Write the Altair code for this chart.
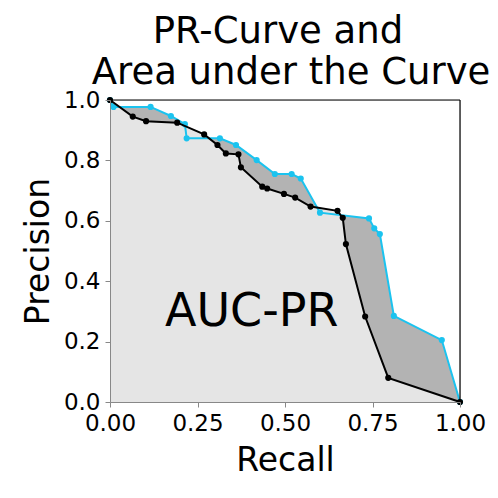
import altair as alt
import pandas as pd

# Data
cyan_recall = [0.0, 0.01, 0.116, 0.174, 0.214, 0.219, 0.314, 0.36, 0.419, 0.471, 0.519, 0.545,
               0.6, 0.74, 0.755, 0.771, 0.811, 0.948, 1.0]
cyan_precision = [1.0, 0.977, 0.977, 0.947, 0.92, 0.873, 0.873, 0.851, 0.801, 0.755, 0.755, 0.74,
                  0.627, 0.608, 0.575, 0.556, 0.285, 0.205, 0.0]
black_recall = [0.0, 0.065, 0.103, 0.192, 0.269, 0.307, 0.331, 0.367, 0.374, 0.435, 0.449, 0.497,
                0.529, 0.573, 0.65, 0.665, 0.674, 0.729, 0.795, 1.0]
black_precision = [1.0, 0.945, 0.93, 0.925, 0.886, 0.851, 0.823, 0.82, 0.777, 0.713, 0.707, 0.689,
                   0.677, 0.647, 0.633, 0.61, 0.523, 0.283, 0.08, 0.0]
x_ticks = [0.0, 0.25, 0.5, 0.75, 1.0]
y_ticks = [0.0, 0.2, 0.4, 0.6, 0.8, 1.0]
title_lines = ["PR-Curve and", "Area under the Curve"]
label_text = ["AUC-PR"]
label_pos = [0.405, 0.252]

FONT = "DejaVu Sans"
CYAN = "#1bc3ef"
W, H = 350, 302

cyan_df = pd.DataFrame({"i": range(len(cyan_recall)), "r": cyan_recall, "p": cyan_precision})
black_df = pd.DataFrame({"i": range(len(black_recall)), "r": black_recall, "p": black_precision})
label_df = pd.DataFrame({"r": [label_pos[0]], "p": [label_pos[1]], "t": label_text})

xs = alt.Scale(domain=[0, 1], nice=False, zero=False, padding=0)
ys = alt.Scale(domain=[0, 1], nice=False, zero=False, padding=0)

x_axis = alt.Axis(values=x_ticks, format=".2f", title="Recall", grid=False,
                  labelFont=FONT, titleFont=FONT, zindex=1,
                  labelFontSize=23, labelPadding=5, tickSize=5, titleFontSize=33,
                  titleFontWeight="normal", titleBaseline="alphabetic", titleY=68,
                  labelFlush=False)
y_axis = alt.Axis(values=y_ticks, format=".1f", title="Precision", grid=False,
                  labelFont=FONT, titleFont=FONT, zindex=1,
                  labelFontSize=23, labelPadding=5, tickSize=5, titleFontSize=33,
                  titleFontWeight="normal", titleBaseline="alphabetic", titleX=-62,
                  titleAngle=-90, labelFlush=False)

X = alt.X("r:Q", scale=xs, axis=x_axis)
Y = alt.Y("p:Q", scale=ys, axis=y_axis)

area_cyan = alt.Chart(cyan_df).mark_area(fill="#b3b3b3", fillOpacity=1).encode(
    x=X, y=alt.Y("p:Q", scale=ys, axis=y_axis, stack=None))
area_black = alt.Chart(black_df).mark_area(fill="#e5e5e5", fillOpacity=1).encode(
    x=X, y=alt.Y("p:Q", scale=ys, axis=y_axis, stack=None))
line_cyan = alt.Chart(cyan_df).mark_line(color=CYAN, strokeWidth=2).encode(
    x=X, y=Y, order="i:Q")
pts_cyan = alt.Chart(cyan_df).mark_circle(color=CYAN, size=38, opacity=1).encode(x=X, y=Y)
line_black = alt.Chart(black_df).mark_line(color="black", strokeWidth=2).encode(
    x=X, y=Y, order="i:Q")
pts_black = alt.Chart(black_df).mark_circle(color="black", size=38, opacity=1).encode(x=X, y=Y)

label = alt.Chart(label_df).mark_text(font=FONT, fontSize=46, color="black",
                                      align="center", baseline="alphabetic").encode(
    x=X, y=Y, text="t:N")

one = alt.Data(values=[{"k": 1}])
top_spine = alt.Chart(one).mark_rule(color="black", strokeWidth=1.2).encode(
    x=alt.value(0), x2=alt.value(W), y=alt.value(0))
right_spine = alt.Chart(one).mark_rule(color="black", strokeWidth=1.2).encode(
    x=alt.value(W), y=alt.value(0), y2=alt.value(H))

t1 = alt.Chart(alt.Data(values=[{"t": title_lines[0]}])).mark_text(
    font=FONT, fontSize=37, color="black", align="center", baseline="alphabetic",
    clip=False).encode(x=alt.value(168), y=alt.value(-57), text="t:N")
t2 = alt.Chart(alt.Data(values=[{"t": title_lines[1]}])).mark_text(
    font=FONT, fontSize=37, color="black", align="center", baseline="alphabetic",
    clip=False).encode(x=alt.value(181), y=alt.value(-16), text="t:N")

chart = alt.layer(area_cyan, area_black, line_cyan, pts_cyan, line_black, pts_black,
                  label, top_spine, right_spine, t1, t2).properties(
    width=W, height=H,
    autosize=alt.AutoSizeParams(type="none"),
    padding={"left": 102, "top": 92, "right": 30, "bottom": 88},
).configure_view(stroke=None).configure_axis(
    labelFont=FONT, titleFont=FONT, labelColor="black", titleColor="black",
    domainColor="black", tickColor="black", domainWidth=1.2, tickWidth=1.2
).configure(background="white", font=FONT)

chart.save("out.html", embed_options={"renderer": "svg", "actions": False})
